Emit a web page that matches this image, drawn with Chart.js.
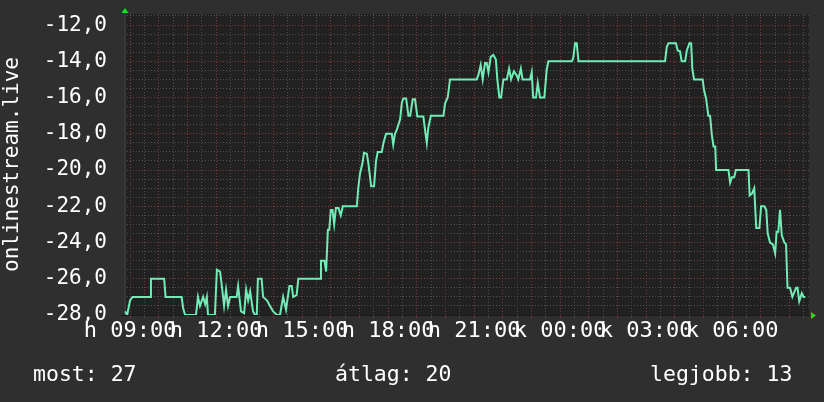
<!DOCTYPE html>
<html><head><meta charset="utf-8">
<script src="https://cdn.jsdelivr.net/npm/chart.js@4"></script>
<style>
html,body{margin:0;padding:0;background:#2f2f2f;overflow:hidden;}
#wrap{position:relative;width:824px;height:402px;}
canvas{display:block;}
.stat{position:absolute;color:#fff;font-family:"DejaVu Sans Mono",monospace;font-size:21.5px;line-height:26px;white-space:pre;}
</style></head><body>
<div id="wrap"><canvas id="c" width="824" height="402"></canvas>
<div class="stat" id="s0" style="left:33px;top:361px"></div>
<div class="stat" id="s1" style="left:335px;top:361px"></div>
<div class="stat" id="s2" style="left:650px;top:361px"></div>
</div>
<script>
// time in hours (24+ = next day), rank shown as negative value
const times = [8.83,8.90,9.00,9.09,9.70,9.73,10.19,10.24,10.80,10.85,10.92,11.30,11.37,11.44,11.55,11.62,11.68,11.72,11.96,12.03,
12.14,12.21,12.28,12.35,12.42,12.49,12.72,12.77,12.87,12.98,13.05,13.12,13.19,13.29,13.36,13.42,13.46,13.59,13.64,13.78,
13.88,13.99,14.13,14.23,14.34,14.44,14.56,14.64,14.69,14.81,14.87,15.63,15.66,15.78,15.84,15.90,15.95,16.00,16.06,16.12,
16.18,16.27,16.35,16.42,16.91,16.96,17.02,17.11,17.16,17.26,17.31,17.41,17.51,17.58,17.64,17.78,17.84,17.93,18.13,18.18,
18.24,18.30,18.42,18.48,18.53,18.63,18.71,18.77,18.86,18.94,19.02,19.23,19.29,19.35,19.40,19.49,19.93,19.99,20.08,20.16,
21.09,21.15,21.23,21.30,21.38,21.44,21.50,21.58,21.67,21.76,21.81,21.88,21.94,22.02,22.14,22.22,22.29,22.39,22.49,22.54,
22.63,22.69,22.95,23.01,23.06,23.16,23.22,23.30,23.45,23.53,23.59,24.41,24.46,24.52,24.58,24.64,27.66,27.72,27.78,28.04,
28.10,28.18,28.24,28.36,28.42,28.51,28.57,28.61,28.67,28.97,29.02,29.09,29.17,29.23,29.29,29.35,29.41,29.44,29.87,29.93,
29.99,30.07,30.13,30.57,30.61,30.69,30.77,30.84,30.95,31.01,31.12,31.19,31.24,31.32,31.42,31.50,31.55,31.61,31.67,31.73,
31.82,31.88,31.93,32.02,32.10,32.23,32.28,32.34,32.43,32.49,32.55];
const ranks = [-27.8,-28,-27.2,-27,-27,-26,-26,-27,-27,-27.6,-28,-28,-27,-27.5,-27,-27.4,-27,-28,-28,-25.5,
-25.6,-26.5,-27.5,-26.6,-27.5,-27,-27,-26.4,-27.8,-27.9,-26.6,-27.2,-26.7,-27.8,-28,-28,-26,-26,-27,-27.2,
-27.5,-27.8,-28,-28,-27,-27.7,-26.4,-26.4,-27,-26.9,-26,-26,-25,-25,-25.6,-23.3,-23.3,-22.2,-22.2,-23,
-22.1,-22.1,-22.5,-22,-22,-21,-20.2,-19.6,-19.05,-19.1,-19.6,-20.9,-20.9,-19.5,-19,-19,-18.5,-18,-18,-18.6,
-18,-17.8,-17.2,-16.3,-16.05,-16.05,-17,-17,-16.1,-16.1,-17.05,-17.05,-17.8,-18.5,-17.7,-17,-17,-16.3,-16,-15,
-15,-14.75,-14.2,-15,-14.1,-14.1,-14.6,-13.75,-13.65,-13.9,-15,-16,-16,-15,-15,-14.4,-15,-14.55,-14.8,-15,
-14.4,-15,-15,-14.6,-16,-16,-15.2,-16,-16,-14.5,-14,-14,-13.8,-13,-13,-14,-14,-13.2,-13,-13,
-13.4,-13.45,-14,-14,-13.4,-13,-13,-14.4,-15,-15,-15.6,-16.05,-17,-17,-18.05,-18.7,-18.7,-20,-20,-20.7,
-20.4,-20.4,-20,-20,-21.4,-21.3,-21,-23.2,-23.2,-22,-22,-22.2,-23.5,-24,-24.1,-24.6,-23.4,-23.4,-22.2,-23.6,
-24,-24.1,-26.5,-26.5,-27,-26.5,-26.5,-27.25,-26.8,-27,-27];
const labelHours = [9,12,15,18,21,24,27,30];
const timeLabels = ['h 09:00','h 12:00','h 15:00','h 18:00','h 21:00','k 00:00','k 03:00','k 06:00'];
const yLabelValues = [-28,-26,-24,-22,-20,-18,-16,-14,-12];
const statNames = ['most','átlag','legjobb'];
const statValues = [27,20,13];
const seriesName = 'onlinestream.live';

const X_MIN = 8.79, X_MAX = 32.68, Y_MIN = -28, Y_MAX = -11.39;
const MAJOR = '#843a3a', MINOR = '#505050';
const FONT = '"DejaVu Sans Mono", monospace';

statNames.forEach((n,i)=>{ document.getElementById('s'+i).textContent = n + ': ' + statValues[i]; });

const xTicks = []; for (let h = 9; h <= 32.5; h += 0.5) xTicks.push(h);
const yTicks = []; for (let v = -28; v <= -11.5; v += 0.5) yTicks.push(v);

const deco = {
  id: 'deco',
  beforeDraw(chart) {
    const {ctx, chartArea: a} = chart;
    ctx.save();
    ctx.fillStyle = '#2f2f2f'; ctx.fillRect(0, 0, chart.width, chart.height);
    ctx.fillStyle = '#212121'; ctx.fillRect(a.left, a.top, a.right - a.left, a.bottom - a.top);
    ctx.restore();
  },
  beforeDatasetsDraw(chart) {
    const {ctx, chartArea: a} = chart;
    ctx.save();
    ctx.fillStyle = '#383838'; ctx.fillRect(a.left, a.top, 2, a.bottom - a.top);
    ctx.fillStyle = '#1a1a1a'; ctx.fillRect(a.left - 4, a.bottom, a.right - a.left + 4, 1);
    ctx.restore();
  },
  afterDraw(chart) {
    const {ctx, chartArea: a} = chart;
    ctx.save();
    ctx.fillStyle = '#22dd22';
    ctx.beginPath(); ctx.moveTo(a.left + 1, a.top - 6); ctx.lineTo(a.left - 2.5, a.top - 1); ctx.lineTo(a.left + 4.5, a.top - 1); ctx.closePath(); ctx.fill();
    ctx.beginPath(); ctx.moveTo(a.right + 7, a.bottom + 0.5); ctx.lineTo(a.right + 2, a.bottom - 3); ctx.lineTo(a.right + 2, a.bottom + 4); ctx.closePath(); ctx.fill();
    ctx.restore();
  }
};

new Chart(document.getElementById('c'), {
  type: 'line',
  data: {
    datasets: [{
      label: seriesName,
      data: times.map((t, i) => ({x: t, y: ranks[i]})),
      borderColor: '#72ecb6',
      borderWidth: 2,
      pointRadius: 0,
      tension: 0,
      fill: false
    }]
  },
  options: {
    responsive: false,
    animation: false,
    devicePixelRatio: 1,
    layout: {padding: {top: 14, right: 15, left: 0, bottom: 0}},
    plugins: {legend: {display: false}, tooltip: {enabled: false}},
    scales: {
      x: {
        type: 'linear', min: X_MIN, max: X_MAX,
        afterBuildTicks: s => { s.ticks = xTicks.map(v => ({value: v})); },
        afterFit: s => { s.height = 87; s.paddingLeft = 0; s.paddingRight = 0; s.paddingTop = 0; s.paddingBottom = 0; },
        grid: {
          color: c => (c.tick && Number.isInteger(c.tick.value)) ? MAJOR : MINOR,
          tickColor: c => (c.tick && Number.isInteger(c.tick.value)) ? MAJOR : MINOR,
          lineWidth: 1, drawTicks: true, tickLength: 3
        },
        border: {display: false, dash: [1, 2]},
        ticks: {
          autoSkip: false, maxRotation: 0, minRotation: 0, padding: 0,
          color: '#ffffff', font: {family: FONT, size: 22},
          callback: v => { const i = labelHours.indexOf(Math.round(v * 2) / 2); return i >= 0 ? timeLabels[i] : ''; }
        }
      },
      y: {
        type: 'linear', min: Y_MIN, max: Y_MAX,
        afterBuildTicks: s => { s.ticks = yTicks.map(v => ({value: v})); },
        afterFit: s => { s.width = 124; s.paddingTop = 0; s.paddingBottom = 0; s.paddingLeft = 0; s.paddingRight = 0; },
        grid: {
          color: c => (c.tick && c.tick.value % 2 === 0) ? MAJOR : MINOR,
          lineWidth: 1, drawTicks: false
        },
        border: {display: false, dash: [1, 2]},
        ticks: {
          autoSkip: false, padding: 17,
          color: '#ffffff', font: {family: FONT, size: 21},
          callback: v => yLabelValues.includes(v) ? v.toFixed(1).replace('.', ',') : ''
        },
        title: {
          display: true, text: seriesName, color: '#ffffff',
          font: {family: FONT, size: 21}, padding: {top: 0, bottom: 0}
        }
      }
    }
  },
  plugins: [deco]
});
</script>
</body></html>
